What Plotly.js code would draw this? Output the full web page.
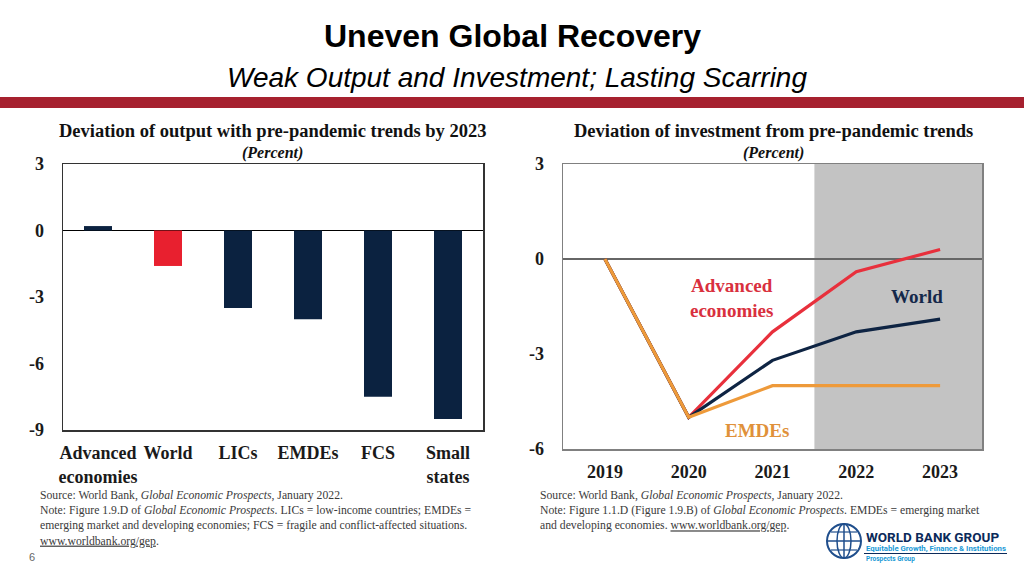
<!DOCTYPE html>
<html>
<head>
<meta charset="utf-8">
<script src="https://cdn.plot.ly/plotly-3.0.1.min.js"></script>
<style>html,body{margin:0;padding:0;background:#fff;}#chart{width:1024px;height:576px;}</style>
</head>
<body>
<div id="chart"></div>
<script>
// ---- data ----
const outputCategories = ["Advanced<br>economies", "World", "LICs", "EMDEs", "FCS", "Small<br>states"];
const outputValues = [0.2, -1.6, -3.5, -4.0, -7.5, -8.5];
const years = [2019, 2020, 2021, 2022, 2023];
const investAdvanced = [0, -5.0, -2.3, -0.4, 0.3];
const investWorld = [0, -5.0, -3.2, -2.3, -1.9];
const investEMDEs = [0, -5.0, -4.0, -4.0, -4.0];
const outputTicks = [3, 0, -3, -6, -9];
const investTicks = [3, 0, -3, -6];
const forecastStart = 2021.5;

// ---- helpers ----
const W = 1024, H = 576;
const X = p => p / W;
const Y = p => 1 - p / H;
const NAVY = '#0b2240', RED = '#e8202f', ORANGE = '#ee9a3a';
const serif = 'Liberation Serif, Times New Roman, serif';
const sans = 'Liberation Sans, Arial, sans-serif';

const barColors = outputCategories.map(c => c === 'World' ? RED : NAVY);

const traces = [
  {type: 'bar', x: outputCategories, y: outputValues, xaxis: 'x', yaxis: 'y',
   marker: {color: barColors}, hoverinfo: 'skip'},
  {type: 'scatter', mode: 'lines', x: years, y: investAdvanced, xaxis: 'x2', yaxis: 'y2',
   line: {color: '#e8303c', width: 3.2}, hoverinfo: 'skip'},
  {type: 'scatter', mode: 'lines', x: years, y: investWorld, xaxis: 'x2', yaxis: 'y2',
   line: {color: '#0e2443', width: 3.2}, hoverinfo: 'skip'},
  {type: 'scatter', mode: 'lines', x: years, y: investEMDEs, xaxis: 'x2', yaxis: 'y2',
   line: {color: ORANGE, width: 3.2}, hoverinfo: 'skip'}
];

const tickFont = {family: serif, size: 18, weight: 'bold', color: '#1a1a1a'};

const ann = [];
function txt(x, y, text, size, opts) {
  ann.push(Object.assign({xref: 'paper', yref: 'paper', x: X(x), y: Y(y), text: text, showarrow: false,
    xanchor: 'center', yanchor: 'middle', font: {family: serif, size: size, color: '#111'}}, opts || {}));
}
// Header
txt(512, 36, 'Uneven Global Recovery', 32, {font: {family: sans, size: 32, weight: 'bold', color: '#000'}});
txt(517, 77, '<i>Weak Output and Investment; Lasting Scarring</i>', 28, {font: {family: sans, size: 28, color: '#000'}});
// Chart titles
txt(272, 131, '<b>Deviation of output with pre-pandemic trends by 2023</b>', 18.5);
txt(272, 153, '<b><i>(Percent)</i></b>', 16);
txt(773, 131, '<b>Deviation of investment from pre-pandemic trends</b>', 18.5);
txt(773, 153, '<b><i>(Percent)</i></b>', 16);
// line labels
ann.push({xref: 'x2', yref: 'y2', x: 2020.51, y: -1.23, text: '<b>Advanced<br>economies</b>', showarrow: false,
  font: {family: serif, size: 19, color: '#d9303e'}});
ann.push({xref: 'x2', yref: 'y2', x: 2022.73, y: -1.19, text: '<b>World</b>', showarrow: false,
  font: {family: serif, size: 19, color: '#14284a'}});
ann.push({xref: 'x2', yref: 'y2', x: 2020.82, y: -5.42, text: '<b>EMDEs</b>', showarrow: false,
  font: {family: serif, size: 19, color: '#e0913a'}});
// Notes
const noteFont = {family: serif, size: 11.7, color: '#3a3a3a'};
txt(38, 487, 'Source: World Bank, <i>Global Economic Prospects</i>, January 2022.<br>' +
  'Note: Figure 1.9.D of <i>Global Economic Prospects</i>. LICs = low-income countries; EMDEs =<br>' +
  'emerging market and developing economies; FCS = fragile and conflict-affected situations.<br>' +
  '<u>www.worldbank.org/gep</u>.', 11.7, {xanchor: 'left', yanchor: 'top', align: 'left', font: noteFont});
txt(538, 487, 'Source: World Bank, <i>Global Economic Prospects</i>, January 2022.<br>' +
  'Note: Figure 1.1.D (Figure 1.9.B) of <i>Global Economic Prospects</i>. EMDEs = emerging market<br>' +
  'and developing economies. <u>www.worldbank.org/gep</u>.', 11.7, {xanchor: 'left', yanchor: 'top', align: 'left', font: noteFont});
// page number
txt(32, 557, '6', 11, {font: {family: sans, size: 11, color: '#666'}});
// logo text
txt(864, 537, '<b>WORLD BANK GROUP</b>', 13.5, {xanchor: 'left', font: {family: 'Roboto, Liberation Sans, sans-serif', size: 13.5, color: '#0b2a5a'}});
txt(864, 548, '<b>Equitable Growth, Finance & Institutions</b>', 7.8, {xanchor: 'left', font: {family: 'Roboto, Liberation Sans, sans-serif', size: 7.8, color: '#1a9ad6'}});
txt(864, 559, '<b>Prospects Group</b>', 6.5, {xanchor: 'left', font: {family: 'Roboto, Liberation Sans, sans-serif', size: 6.5, color: '#1a9ad6'}});

const shapes = [
  // red band
  {type: 'rect', xref: 'paper', yref: 'paper', x0: 0, x1: 1, y0: Y(108), y1: Y(97), fillcolor: '#a6212f', line: {width: 0}},
  // forecast shading
  {type: 'rect', xref: 'x2', yref: 'y2 domain', x0: forecastStart, x1: 2023.5, y0: 0, y1: 1,
   fillcolor: '#c3c3c3', line: {width: 0}, layer: 'below'},
  // logo globe
  {type: 'circle', xref: 'paper', yref: 'paper', x0: X(827), x1: X(861), y0: Y(558), y1: Y(524), line: {color: '#1f4e8c', width: 2}},
  {type: 'circle', xref: 'paper', yref: 'paper', x0: X(837), x1: X(851), y0: Y(558), y1: Y(524), line: {color: '#1f4e8c', width: 1.5}},
  {type: 'line', xref: 'paper', yref: 'paper', x0: X(844), x1: X(844), y0: Y(558), y1: Y(524), line: {color: '#1f4e8c', width: 1.5}},
  {type: 'line', xref: 'paper', yref: 'paper', x0: X(828), x1: X(860), y0: Y(541), y1: Y(541), line: {color: '#1f4e8c', width: 1.5}},
  {type: 'line', xref: 'paper', yref: 'paper', x0: X(831), x1: X(857), y0: Y(532), y1: Y(532), line: {color: '#1f4e8c', width: 1.2}},
  {type: 'line', xref: 'paper', yref: 'paper', x0: X(831), x1: X(857), y0: Y(550), y1: Y(550), line: {color: '#1f4e8c', width: 1.2}},
  {type: 'line', xref: 'paper', yref: 'paper', x0: X(864), x1: X(1007), y0: Y(553.5), y1: Y(553.5), line: {color: '#0b2a5a', width: 1}}
];

const layout = {
  width: W, height: H,
  margin: {l: 0, r: 0, t: 0, b: 0},
  paper_bgcolor: '#fff', plot_bgcolor: '#fff',
  showlegend: false,
  bargap: 0.6,
  xaxis: {domain: [X(63), X(483)], anchor: 'y', type: 'category', tickfont: tickFont, ticks: '',
    showline: true, mirror: true, linecolor: '#333', linewidth: 1.5, showgrid: false, ticklabelstandoff: 6, fixedrange: true},
  yaxis: {domain: [Y(430), Y(164)], anchor: 'x', range: [-9, 3], tickvals: outputTicks, ticktext: outputTicks.map(String),
    tickfont: tickFont, ticks: '', showgrid: false, zeroline: true, zerolinecolor: '#000', zerolinewidth: 1.2,
    showline: true, mirror: true, linecolor: '#333', linewidth: 1.5, ticklabelstandoff: 14, fixedrange: true},
  xaxis2: {domain: [X(563), X(982)], anchor: 'y2', range: [2018.5, 2023.5], tickvals: years, ticktext: years.map(String),
    tickfont: tickFont, ticks: '', showgrid: false, zeroline: false,
    showline: true, mirror: true, linecolor: '#808080', linewidth: 1.5, ticklabelstandoff: 6, fixedrange: true},
  yaxis2: {domain: [Y(449), Y(164)], anchor: 'x2', range: [-6, 3], tickvals: investTicks, ticktext: investTicks.map(String),
    tickfont: tickFont, ticks: '', showgrid: false, zeroline: true, zerolinecolor: '#666', zerolinewidth: 1.5,
    showline: true, mirror: true, linecolor: '#808080', linewidth: 1.5, ticklabelstandoff: 14, fixedrange: true},
  annotations: ann,
  shapes: shapes
};

Plotly.newPlot('chart', traces, layout, {staticPlot: true, displayModeBar: false});
</script>
</body>
</html>
